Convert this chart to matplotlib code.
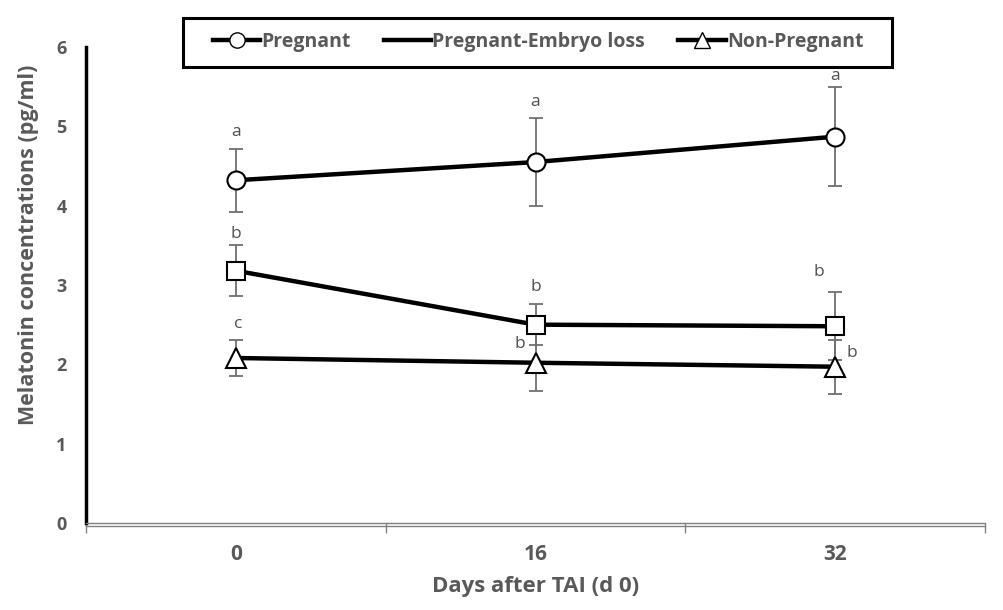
import matplotlib
matplotlib.use("Agg")
import matplotlib.pyplot as plt
import matplotlib.transforms as mtransforms
from matplotlib.lines import Line2D
from matplotlib.patches import Rectangle

days = ["0", "16", "32"]
series = ["Pregnant", "Pregnant-Embryo loss", "Non-Pregnant"]
preg = [4.32, 4.55, 4.87]
preg_err = [0.40, 0.56, 0.62]
loss = [3.18, 2.50, 2.48]
loss_err = [0.32, 0.26, 0.43]
nonp = [2.08, 2.02, 1.97]
nonp_err = [0.23, 0.36, 0.34]
preg_letters = ["a", "a", "a"]
loss_letters = ["b", "b", "b"]
nonp_letters = ["c", "b", "b"]
yticks = [0, 1, 2, 3, 4, 5, 6]

gray = "#595959"
plt.rcParams['font.family'] = ['Open Sans', 'DejaVu Sans']

fig = plt.figure(figsize=(10.04, 6.10), dpi=100)
ax = fig.add_axes([86/1004, 1-523/610, (985-86)/1004, (523-47)/610])

x = list(range(len(days)))
markers = ["o", "s", "^"]
for vals, errs, mk in zip([preg, loss, nonp], [preg_err, loss_err, nonp_err], markers):
    ax.errorbar(x, vals, yerr=errs, fmt="none", ecolor="#707070", elinewidth=1.3,
                capsize=5, capthick=1.3, zorder=2)
    ax.plot(x, vals, color="black", lw=3.2, zorder=3, solid_capstyle="butt")
    ax.plot(x, vals, linestyle="none", marker=mk, ms=13 if mk != "^" else 14,
            mfc="white", mec="black", mew=1.5, zorder=4)

def label(xi, y, txt, dx=0):
    ax.annotate(txt, (xi, y), xytext=(dx, 0), textcoords="offset pixels",
                ha="center", va="center", color="#505050", fontsize=12.5)

label(0, preg[0] + preg_err[0] + 0.21, preg_letters[0])
label(1, preg[1] + preg_err[1] + 0.20, preg_letters[1])
label(2, preg[2] + preg_err[2] + 0.15, preg_letters[2])
label(0, loss[0] + loss_err[0] + 0.14, loss_letters[0])
label(1, loss[1] + loss_err[1] + 0.21, loss_letters[1])
label(2, loss[2] + loss_err[2] + 0.26, loss_letters[2], dx=-16)
label(0, nonp[0] + nonp_err[0] + 0.20, nonp_letters[0], dx=2)
label(1, nonp[1] + 0.24, nonp_letters[1], dx=-16)
label(2, nonp[2] + 0.17, nonp_letters[2], dx=17)

ax.set_xlim(-0.5, 2.5)
ax.set_ylim(0, 6)
ax.set_yticks(yticks)
ax.set_yticklabels([str(t) for t in yticks])
ax.set_xticks(x)
ax.set_xticklabels(days)
ax.set_xticks([-0.5, 0.5, 1.5, 2.5], minor=True)
ax.tick_params(axis="x", which="major", length=0, pad=15, labelsize=15, labelcolor=gray)
ax.tick_params(axis="x", which="minor", length=7, width=1, color="#808080", direction="out")
ax.tick_params(axis="y", length=0, pad=14, labelsize=13, labelcolor=gray)
for lbl in ax.get_xticklabels() + ax.get_yticklabels():
    lbl.set_fontweight("bold")

ax.spines["top"].set_visible(False)
ax.spines["right"].set_visible(False)
ax.spines["left"].set_linewidth(2.5)
ax.spines["left"].set_color("black")
ax.spines["bottom"].set_linewidth(1)
ax.spines["bottom"].set_color("#808080")
off = mtransforms.ScaledTranslation(0, -3/100, fig.dpi_scale_trans)
ax.add_line(Line2D([0, 1], [0, 0], transform=ax.transAxes + off, color="#808080",
                   lw=1, clip_on=False))

ax.set_xlabel("Days after TAI (d 0)", fontsize=16, fontweight="bold", color=gray)
ax.xaxis.set_label_coords(0.5, -(576-523)/476)
ax.set_ylabel("Melatonin concentrations (pg/ml)", fontsize=15.5, fontweight="bold",
              color=gray)
ax.yaxis.set_label_coords(-(86-39)/899, (523-245)/476)

handles = [
    Line2D([], [], color="black", lw=3.2, marker="o", ms=11, mfc="white", mec="black"),
    Line2D([], [], color="black", lw=3.2),
    Line2D([], [], color="black", lw=3.2, marker="^", ms=11, mfc="white", mec="black"),
]
leg = fig.legend(handles, series, loc="center", ncol=3,
                 bbox_to_anchor=(538/1004, 1-42/610),
                 frameon=False, handlelength=2.45, handletextpad=0.05,
                 columnspacing=1.7, borderaxespad=0, borderpad=0,
                 prop={"weight": "bold", "size": 14})
for t in leg.get_texts():
    t.set_color(gray)
fig.patches.append(Rectangle((183/1004, 1-67/610), (892-183)/1004, (67-18)/610,
                             transform=fig.transFigure, fill=False, edgecolor="black",
                             linewidth=2.2))

fig.savefig("out.png", dpi=100)
